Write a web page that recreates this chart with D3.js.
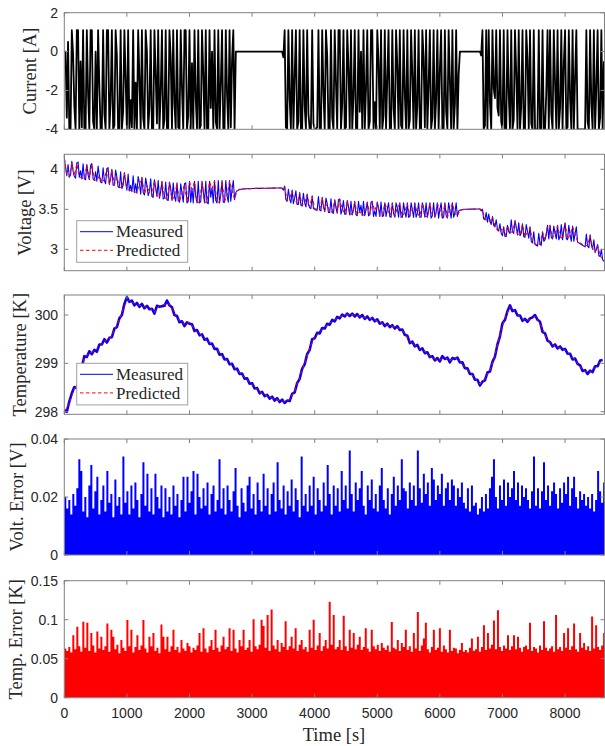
<!DOCTYPE html>
<html>
<head>
<meta charset="utf-8">
<script src="https://cdn.jsdelivr.net/npm/d3@7"></script>
<style>
body { margin: 0; background: #fff; }
.tlab { font-family: "Liberation Sans", Arial, sans-serif; font-size: 14px; fill: #262626; }
.alab { font-family: "Liberation Serif", serif; font-size: 18.5px; fill: #262626; }
.leg { font-family: "Liberation Serif", serif; font-size: 17px; fill: #262626; }
</style>
</head>
<body>
<script>
// ---- data ----
var curStep = 20;   // s between current / voltage samples
var current = [
 0,0,-3.4,0.5,-4,-4,1.1,-0.1,-2.8,-4,
 1.1,1.1,-4,-0.5,-3.9,1.1,-4,-4,1.1,-2.2,
 -4,1.1,1.1,-3.6,-4,0,-4,1.1,-1.8,-4,
 -4,1.1,-3.2,-4,1.1,1.1,-4,-2.6,1.1,-4,
 -3.8,1.1,-0.2,-4,-4,1.1,-4,-3.1,1.1,-1.5,
 -4,1.1,-4,-2.5,-3.9,1.1,-4,-1.6,-4,1.1,
 -1.4,-4,1.1,-3.4,-4,1.1,0,-4,-2.9,1.1,
 -4,-4,1.1,-1.2,-3.7,1.1,-4,-2.1,1.1,-4,
 -3.5,1.1,-4,-4,1.1,-0.3,-4,1.1,-2.7,-4,
 1.1,-3.9,-4,1.1,-1.9,-4,1.1,1.1,-4,-3.3,
 1.1,-4,-0.6,-4,1.1,-2.4,-4,1.1,-4,-3.8,
 1.1,-1.1,-4,1.1,-4,-4,1.1,-2.9,0,-4,
 1.1,-3.6,-4,1.1,-4,-1.7,1.1,-4,-4,1.1,
 -2.2,-4,1.1,-3.9,-0.4,1.1,-4,
 0,0,0,0,0,0,0,0,0,0,0,0,0,0,0,0,0,0,0,0,0,0,0,0,0,0,0,0,0,0,0,0,0,0,0,0,0,0,
 -0.3,1.1,-3.9,-4,1.1,-2.4,-4,1.1,-4,-1.3,
 1.1,-4,-3.6,1.1,-4,-4,1.1,-2.8,-4,1.1,
 -3.2,-4,-4,1.1,-3.7,-4,-4,-3.9,1.1,-4,
 -4,1.1,-2.1,-4,1.1,-0.2,-4,-4,1.1,-3.4,
 -4,1.1,-1.6,-4,1.1,1.1,-4,-2.7,1.1,-4,
 -3.9,1.1,-0.8,-4,1.1,-4,-2.3,1.1,-4,-4,
 1.1,-3.1,0,-4,1.1,-4,-1.9,1.1,-4,-3.6,
 1.1,1.1,-4,-2.6,-4,1.1,-0.5,-4,1.1,-4,
 -3.3,1.1,-4,-1.4,1.1,-4,-4,1.1,-2.9,-4,
 1.1,-0.7,-4,1.1,-3.8,-4,1.1,-2.2,-4,1.1,
 -4,-3.5,1.1,-1.2,-4,1.1,-4,-2.8,1.1,-4,
 -4,1.1,-0.3,-3.9,1.1,-4,-1.8,1.1,-4,-3.4,
 1.1,-4,-2.5,1.1,-4,-0.9,1.1,-4,-4,1.1,
 -3.1,-4,1.1,-1.5,-4,1.1,-4,-2.7,1.1,-4,
 -1.2,0,
 0,0,0,0,0,0,0,0,0,0,0,0,0,0,0,0,
 -0.2,1.1,-4,-3.8,1.1,-4,1.1,-2.6,-4,1.1,
 -1.9,-2.4,1.1,-2.9,-3.3,1.1,-3.6,-4,1.1,-4,
 -4,1.1,-2.2,-4,1.1,-4,-3.5,1.1,-1.1,-4,
 1.1,-4,-2.8,1.1,-4,-4,1.1,-0.4,-4,1.1,
 -3.7,-4,1.1,-4,-4,-4,1.1,-4,-4,1.1,
 -4,-4,-2.1,1.1,-4,1.1,-3.2,-4,1.1,-1.6,
 -4,1.1,-4,-2.9,1.1,-4,-0.6,1.1,-4,-3.9,
 1.1,-2.4,-4,1.1,-4,-1.3,1.1,-4,-4,-4,
 -4,-4,-4,-4,1.1,-3.6,-4,1.1,-2.7,-4,
 1.1,-4,-1.8,1.1,-4,-3.4,1.1,-4,-0.5
];

var voltMeas = [
 4.15,4.02,3.92,4.06,3.9,3.93,4.1,3.98,3.91,3.89,
 4.08,4.09,3.9,3.98,3.88,4.07,3.88,3.87,4.06,3.93,
 3.87,4.05,4.07,3.88,3.86,3.97,3.85,4.04,3.92,3.84,
 3.83,4.02,3.86,3.82,4.01,4.02,3.81,3.88,4.0,3.8,
 3.8,3.99,3.9,3.78,3.77,3.97,3.76,3.8,3.96,3.84,
 3.74,3.94,3.73,3.8,3.72,3.92,3.71,3.82,3.7,3.91,
 3.83,3.69,3.9,3.71,3.68,3.89,3.8,3.67,3.72,3.88,
 3.66,3.65,3.87,3.76,3.66,3.86,3.64,3.72,3.85,3.63,
 3.64,3.84,3.62,3.61,3.84,3.76,3.61,3.83,3.66,3.6,
 3.83,3.61,3.59,3.82,3.7,3.59,3.82,3.83,3.58,3.6,
 3.85,3.59,3.76,3.58,3.85,3.66,3.58,3.85,3.58,3.6,
 3.85,3.73,3.58,3.85,3.58,3.57,3.85,3.65,3.77,3.58,
 3.86,3.61,3.58,3.86,3.58,3.68,3.86,3.59,3.59,3.86,
 3.67,3.59,3.86,3.6,3.75,3.86,3.62,
 3.71,3.73,3.74,3.745,3.75,3.752,3.754,3.755,3.756,3.757,
 3.758,3.758,3.759,3.76,3.76,3.76,3.761,3.761,3.762,3.762,
 3.762,3.763,3.763,3.763,3.764,3.764,3.764,3.764,3.765,3.765,
 3.765,3.765,3.766,3.766,3.766,3.766,3.766,3.767,
 3.74,3.79,3.62,3.6,3.75,3.63,3.58,3.74,3.57,3.64,
 3.73,3.56,3.56,3.71,3.55,3.54,3.7,3.58,3.53,3.69,
 3.56,3.52,3.51,3.67,3.51,3.5,3.49,3.49,3.66,3.49,
 3.48,3.65,3.53,3.47,3.64,3.57,3.46,3.46,3.63,3.46,
 3.45,3.62,3.52,3.45,3.62,3.63,3.44,3.5,3.61,3.44,
 3.44,3.61,3.53,3.43,3.6,3.43,3.49,3.6,3.43,3.42,
 3.6,3.47,3.55,3.42,3.6,3.42,3.5,3.59,3.42,3.43,
 3.59,3.6,3.41,3.48,3.41,3.59,3.52,3.41,3.59,3.41,
 3.42,3.58,3.41,3.5,3.58,3.41,3.4,3.58,3.45,3.4,
 3.58,3.52,3.4,3.58,3.4,3.4,3.58,3.47,3.4,3.58,
 3.4,3.41,3.58,3.5,3.4,3.58,3.4,3.45,3.58,3.4,
 3.4,3.58,3.52,3.4,3.58,3.4,3.48,3.58,3.39,3.42,
 3.58,3.4,3.46,3.58,3.39,3.5,3.58,3.39,3.4,3.58,
 3.42,3.39,3.58,3.49,3.39,3.58,3.4,3.45,3.58,3.41,
 3.48,3.49,
 3.49,3.495,3.5,3.5,3.5,3.5,3.5,3.502,3.502,3.502,3.503,3.503,3.503,3.504,3.504,3.504,
 3.48,3.5,3.38,3.37,3.46,3.34,3.44,3.35,3.31,3.41,
 3.3,3.28,3.37,3.25,3.23,3.32,3.2,3.17,3.28,3.16,
 3.16,3.3,3.22,3.2,3.37,3.22,3.2,3.36,3.28,3.18,
 3.33,3.17,3.2,3.32,3.16,3.15,3.31,3.22,3.14,3.28,
 3.1,3.08,3.22,3.06,3.05,3.04,3.2,3.06,3.05,3.22,
 3.1,3.12,3.18,3.3,3.13,3.3,3.15,3.13,3.29,3.2,
 3.13,3.3,3.12,3.16,3.31,3.12,3.25,3.33,3.13,3.12,
 3.3,3.18,3.1,3.29,3.1,3.2,3.28,3.09,3.08,3.07,
 3.06,3.05,3.04,3.03,3.19,3.04,3.02,3.18,3.06,3.0,
 3.12,2.96,3.0,3.06,2.92,2.91,3.0,2.87,2.85
];

var predStep = 40;  // s between predicted voltage samples
var voltPred = [
 4.13,3.93,3.91,4.08,3.92,4.07,3.91,3.89,3.89,4.05,
 3.88,4.06,3.87,3.86,3.92,3.84,3.87,4.0,3.82,3.99,
 3.81,3.9,3.78,3.77,3.95,3.75,3.74,3.73,3.72,3.71,
 3.82,3.89,3.69,3.8,3.72,3.67,3.86,3.67,3.65,3.84,
 3.65,3.63,3.83,3.62,3.66,3.82,3.6,3.7,3.81,3.59,
 3.84,3.75,3.84,3.59,3.59,3.84,3.59,3.59,3.84,3.76,
 3.85,3.59,3.59,3.85,3.6,3.67,3.85,3.74,3.63,
 3.73,3.75,3.754,3.756,3.758,3.759,3.76,3.761,3.762,3.762,
 3.763,3.764,3.764,3.765,3.765,3.766,3.766,3.766,3.767,
 3.78,3.61,3.64,3.73,3.64,3.57,3.7,3.55,3.58,3.68,
 3.53,3.66,3.51,3.5,3.5,3.64,3.48,3.57,3.47,3.47,
 3.61,3.46,3.62,3.5,3.45,3.6,3.44,3.44,3.59,3.43,
 3.47,3.43,3.43,3.58,3.44,3.59,3.48,3.58,3.42,3.42,
 3.57,3.5,3.42,3.57,3.41,3.52,3.57,3.41,3.47,3.57,
 3.42,3.5,3.57,3.45,3.41,3.57,3.41,3.41,3.57,3.43,
 3.41,3.57,3.5,3.4,3.57,3.4,3.49,3.57,3.45,3.42,
 3.49,
 3.495,3.5,3.5,3.5,3.502,3.502,3.503,3.504,
 3.49,3.38,3.35,
 3.35,3.4,3.29,3.24,3.21,3.27,3.17,3.29,3.21,3.22,
 3.35,3.19,3.18,3.31,3.16,3.21,3.27,3.09,3.07,3.05,
 3.07,3.21,3.12,3.29,3.29,3.14,3.2,3.29,3.16,3.13,
 3.32,3.13,3.18,3.28,3.2,3.1,3.08,3.06,3.04,3.05,
 3.17,3.01,2.97,3.05,2.92,2.88
];

var tempStep = 40;  // s between measured temperature samples
var tempMeas = [
 298.02,298.0,298.21,298.38,298.51,298.49,298.68,298.92,299.15,299.13,
 299.25,299.19,299.28,299.24,299.39,299.39,299.5,299.43,299.53,299.54,
 299.72,299.75,299.93,300.0,300.23,300.37,300.27,300.3,300.2,300.25,
 300.17,300.23,300.14,300.19,300.12,300.13,300.03,300.19,300.17,300.18,
 300.19,300.3,300.2,300.16,300.0,299.98,299.85,299.87,299.77,299.85,
 299.82,299.81,299.67,299.69,299.58,299.6,299.49,299.51,299.4,299.41,
 299.3,299.3,299.18,299.19,299.08,299.09,298.98,298.99,298.88,298.89,
 298.78,298.79,298.68,298.69,298.58,298.59,298.48,298.49,298.38,298.41,
 298.32,298.35,298.27,298.31,298.23,298.28,298.2,298.25,298.18,298.23,
 298.22,298.37,298.4,298.59,298.68,298.89,298.98,299.19,299.28,299.5,
 299.52,299.63,299.62,299.73,299.72,299.82,299.8,299.9,299.87,299.96,
 299.93,300.01,299.97,300.03,299.98,300.03,299.97,300.02,299.95,300.0,
 299.92,299.97,299.9,299.94,299.87,299.91,299.82,299.85,299.77,299.82,
 299.75,299.79,299.72,299.77,299.69,299.7,299.59,299.57,299.42,299.45,
 299.35,299.38,299.28,299.31,299.21,299.23,299.13,299.15,299.06,299.11,
 299.04,299.15,299.09,299.12,299.02,299.11,299.09,299.12,299.02,299.02,
 298.9,298.9,298.78,298.78,298.66,298.66,298.54,298.62,298.65,298.81,
 298.83,299.03,299.14,299.39,299.56,299.83,299.9,300.08,300.2,300.08,
 300.1,299.99,299.99,299.88,299.92,299.86,299.93,299.95,300.0,299.9,
 299.86,299.65,299.62,299.47,299.44,299.35,299.39,299.31,299.35,299.28,
 299.3,299.2,299.2,299.08,299.1,298.99,298.96,298.84,298.86,298.78,
 298.85,298.82,298.94,298.94,299.06,299.07
];

var tempPredStep = 80;  // s between predicted temperature samples
var tempPred = [
 298.0,298.18,298.47,298.65,299.12,299.21,299.25,299.35,299.46,299.5,
 299.68,299.9,300.2,300.31,300.24,300.2,300.17,300.15,300.06,300.2,
 300.22,300.23,300.03,299.88,299.8,299.85,299.7,299.61,299.52,299.43,
 299.33,299.21,299.11,299.01,298.91,298.81,298.71,298.61,298.51,298.41,
 298.35,298.3,298.26,298.23,298.21,298.25,298.43,298.71,299.01,299.31,
 299.55,299.65,299.75,299.83,299.9,299.96,300.0,300.01,300.0,299.98,
 299.95,299.93,299.9,299.85,299.8,299.78,299.75,299.72,299.62,299.45,
 299.38,299.31,299.24,299.16,299.09,299.07,299.12,299.05,299.12,299.05,
 298.93,298.81,298.69,298.57,298.68,298.86,299.17,299.59,299.93,300.17,
 300.07,299.96,299.89,299.9,299.97,299.83,299.59,299.41,299.36,299.32,
 299.27,299.17,299.07,298.93,298.83,298.82,298.91,299.03
];

var errBin = 32;  // s per error bin (peak of |error| in each bin)
var voltErr = [
 0.02,0.016,0.019,0.014,0.021,0.017,0.023,0.033,0.029,0.015,
 0.02,0.013,0.024,0.031,0.016,0.022,0.027,0.014,0.019,0.024,
 0.015,0.029,0.018,0.021,0.013,0.026,0.017,0.02,0.014,0.034,
 0.018,0.022,0.014,0.024,0.016,0.025,0.019,0.013,0.021,0.032,
 0.017,0.028,0.015,0.023,0.014,0.028,0.02,0.016,0.024,0.013,
 0.023,0.015,0.02,0.014,0.024,0.017,0.021,0.013,0.019,0.027,
 0.015,0.027,0.018,0.022,0.029,0.014,0.028,0.02,0.016,0.023,
 0.017,0.025,0.014,0.021,0.024,0.015,0.019,0.033,0.016,0.023,
 0.014,0.024,0.019,0.015,0.022,0.03,0.017,0.013,0.023,0.018,
 0.015,0.024,0.027,0.016,0.021,0.014,0.025,0.019,0.015,0.028,
 0.017,0.023,0.014,0.021,0.025,0.015,0.032,0.019,0.016,0.024,
 0.014,0.022,0.017,0.026,0.015,0.023,0.019,0.013,0.034,0.017,
 0.021,0.015,0.024,0.017,0.027,0.014,0.023,0.019,0.015,0.025,
 0.017,0.031,0.021,0.014,0.024,0.017,0.023,0.015,0.029,0.019,
 0.024,0.016,0.036,0.021,0.015,0.025,0.019,0.023,0.029,0.017,
 0.014,0.024,0.019,0.026,0.016,0.021,0.015,0.024,0.03,0.019,
 0.016,0.023,0.014,0.021,0.027,0.017,0.024,0.019,0.033,0.023,
 0.022,0.016,0.025,0.019,0.024,0.017,0.036,0.023,0.018,0.028,
 0.021,0.025,0.017,0.03,0.026,0.019,0.024,0.021,0.028,0.017,
 0.023,0.025,0.019,0.026,0.024,0.017,0.023,0.02,0.025,0.018,
 0.016,0.023,0.015,0.024,0.017,0.018,0.014,0.016,0.02,0.015,
 0.021,0.016,0.023,0.027,0.033,0.02,0.016,0.024,0.019,0.026,
 0.017,0.025,0.02,0.023,0.029,0.019,0.025,0.017,0.024,0.02,
 0.023,0.019,0.016,0.022,0.034,0.017,0.023,0.016,0.022,0.032,
 0.019,0.024,0.017,0.022,0.025,0.021,0.016,0.023,0.018,0.025,
 0.021,0.027,0.017,0.023,0.027,0.02,0.016,0.022,0.019,0.021,
 0.017,0.02,0.016,0.021,0.015,0.019,0.029,0.022,0.018,0.025
];

var tempErr = [
 0.063,0.06,0.065,0.058,0.08,0.062,0.091,0.066,0.059,0.0975,
 0.064,0.096,0.06,0.083,0.067,0.058,0.085,0.063,0.078,0.061,
 0.066,0.095,0.059,0.087,0.078,0.062,0.068,0.057,0.074,0.064,
 0.06,0.0996,0.066,0.087,0.058,0.065,0.08,0.061,0.067,0.0996,
 0.063,0.058,0.078,0.066,0.083,0.06,0.064,0.057,0.094,0.078,
 0.062,0.078,0.059,0.066,0.087,0.061,0.065,0.058,0.074,0.063,
 0.06,0.07,0.066,0.058,0.064,0.061,0.067,0.083,0.059,0.089,
 0.063,0.058,0.066,0.074,0.061,0.087,0.064,0.059,0.067,0.078,
 0.062,0.065,0.089,0.06,0.087,0.063,0.058,0.074,0.066,0.087,
 0.061,0.064,0.074,0.059,0.1005,0.066,0.062,0.068,0.1,0.092,
 0.064,0.106,0.06,0.113,0.067,0.062,0.074,0.059,0.07,0.065,
 0.098,0.061,0.066,0.078,0.063,0.089,0.06,0.068,0.074,0.062,
 0.065,0.059,0.087,0.064,0.1,0.061,0.067,0.083,0.06,0.066,
 0.074,0.063,0.123,0.068,0.106,0.062,0.065,0.074,0.061,0.105,
 0.066,0.06,0.087,0.064,0.083,0.062,0.068,0.078,0.061,0.065,
 0.089,0.063,0.059,0.087,0.066,0.062,0.068,0.06,0.07,0.064,
 0.061,0.067,0.059,0.097,0.064,0.062,0.074,0.06,0.07,0.065,
 0.087,0.061,0.066,0.059,0.083,0.063,0.11,0.06,0.067,0.076,
 0.096,0.062,0.058,0.065,0.087,0.061,0.064,0.089,0.059,0.067,
 0.062,0.058,0.087,0.06,0.064,0.063,0.057,0.061,0.07,0.059,
 0.061,0.058,0.064,0.076,0.06,0.062,0.078,0.059,0.065,0.093,
 0.061,0.083,0.063,0.068,0.099,0.062,0.112,0.065,0.06,0.067,
 0.063,0.08,0.061,0.066,0.08,0.062,0.078,0.064,0.059,0.065,
 0.067,0.062,0.096,0.06,0.065,0.063,0.058,0.067,0.061,0.098,
 0.064,0.06,0.063,0.066,0.059,0.106,0.062,0.065,0.06,0.083,
 0.064,0.089,0.061,0.066,0.095,0.062,0.059,0.083,0.064,0.07,
 0.061,0.066,0.06,0.104,0.063,0.093,0.065,0.061,0.067,0.083
];

var xTicks = [0, 1000, 2000, 3000, 4000, 5000, 6000, 7000, 8000];
var legendNames = ["Measured", "Predicted"];

// ---- layout ----
var width = 605, height = 746;
var x = d3.scaleLinear().domain([0, 8630]).range([64.3, 604.5]);

var panels = [
  {top: 12.7,  bottom: 129.3, domain: [-4, 2],            ticks: [-4, -2, 0, 2],       label: "Current [A]",     lx: 30},
  {top: 154.3, bottom: 270.7, domain: [2.7325, 4.1875],   ticks: [3, 3.5, 4],          label: "Voltage [V]",     lx: 25},
  {top: 295,   bottom: 414.3, domain: [297.946, 300.414], ticks: [298, 299, 300],      label: "Temperature [K]", lx: 20},
  {top: 439,   bottom: 555,   domain: [0, 0.04],          ticks: [0, 0.02, 0.04],      label: "Volt. Error [V]", lx: 17},
  {top: 580.7, bottom: 697.7, domain: [0, 0.15],          ticks: [0, 0.05, 0.1, 0.15], label: "Temp. Error [K]", lx: 16}
];

var svg = d3.select("body").append("svg")
    .attr("width", width)
    .attr("height", height);

panels.forEach(function(p, i) {
  p.y = d3.scaleLinear().domain(p.domain).range([p.bottom, p.top]);
  svg.append("clipPath").attr("id", "clip" + i)
    .append("rect")
      .attr("x", x.range()[0]).attr("y", p.top)
      .attr("width", x.range()[1] - x.range()[0])
      .attr("height", p.bottom - p.top);
  p.g = svg.append("g").attr("clip-path", "url(#clip" + i + ")");
});

function series(vals, step) {
  return vals.map(function(v, i) { return [i * step, v]; });
}

function drawLine(p, data, color, w, dash) {
  var line = d3.line()
      .x(function(d) { return x(d[0]); })
      .y(function(d) { return p.y(d[1]); });
  p.g.append("path")
      .attr("d", line(data))
      .attr("fill", "none")
      .attr("stroke", color)
      .attr("stroke-width", w)
      .attr("stroke-dasharray", dash || null)
      .attr("stroke-linejoin", "round");
}

// error peaks drawn as one stepped area, so the bins have no seams
function drawBins(p, vals, color) {
  var pts = vals.map(function(v, i) { return [i * errBin, v]; });
  pts.push([vals.length * errBin, vals[vals.length - 1]]);
  var area = d3.area()
      .curve(d3.curveStepAfter)
      .x(function(d) { return x(d[0]); })
      .y0(p.y(0))
      .y1(function(d) { return p.y(d[1]); });
  p.g.append("path")
      .attr("d", area(pts))
      .attr("fill", color);
}

// current
drawLine(panels[0], series(current, curStep), "#000", 1.8);
// voltage
drawLine(panels[1], series(voltMeas, curStep), "#0000ff", 1.1);
drawLine(panels[1], series(voltPred, predStep), "#ff0000", 1.1, "3.5,2.5");
// temperature
drawLine(panels[2], series(tempMeas, tempStep), "#0000ff", 2.6);
drawLine(panels[2], series(tempPred, tempPredStep), "#ff0000", 1, "3.5,2.5");
// errors
drawBins(panels[3], voltErr, "#0000ff");
drawBins(panels[4], tempErr, "#ff0000");

// axes: box, inward ticks, labels
var axisColor = "#808080";
panels.forEach(function(p, i) {
  var g = svg.append("g");
  var x0 = x.range()[0], x1 = x.range()[1];
  g.append("rect")
      .attr("x", x0).attr("y", p.top)
      .attr("width", x1 - x0).attr("height", p.bottom - p.top)
      .attr("fill", "none").attr("stroke", axisColor).attr("stroke-width", 1);
  xTicks.forEach(function(t) {
    g.append("line").attr("x1", x(t)).attr("x2", x(t))
      .attr("y1", p.bottom).attr("y2", p.bottom - 4).attr("stroke", axisColor);
    g.append("line").attr("x1", x(t)).attr("x2", x(t))
      .attr("y1", p.top).attr("y2", p.top + 4).attr("stroke", axisColor);
  });
  p.ticks.forEach(function(t) {
    g.append("line").attr("x1", x0).attr("x2", x0 + 4)
      .attr("y1", p.y(t)).attr("y2", p.y(t)).attr("stroke", axisColor);
    g.append("line").attr("x1", x1).attr("x2", x1 - 4)
      .attr("y1", p.y(t)).attr("y2", p.y(t)).attr("stroke", axisColor);
    g.append("text").attr("class", "tlab")
      .attr("x", 58).attr("y", p.y(t)).attr("dy", "0.35em")
      .attr("text-anchor", "end")
      .text(String(t));
  });
  g.append("text").attr("class", "alab")
      .attr("transform", "translate(" + p.lx + "," + ((p.top + p.bottom) / 2) + ") rotate(-90)")
      .attr("text-anchor", "middle")
      .attr("dy", "0.35em")
      .text(p.label);
});

// x tick labels and title under the last panel
xTicks.forEach(function(t) {
  svg.append("text").attr("class", "tlab")
    .attr("x", x(t)).attr("y", 718)
    .attr("text-anchor", "middle")
    .text(String(t));
});
svg.append("text").attr("class", "alab")
    .attr("x", 334).attr("y", 741)
    .attr("text-anchor", "middle")
    .text("Time [s]");

// legends
function legend(top) {
  var g = svg.append("g");
  g.append("rect")
      .attr("x", 76.7).attr("y", top)
      .attr("width", 111).attr("height", 41.6)
      .attr("fill", "#fff").attr("stroke", "#a0a0a0").attr("stroke-width", 1);
  var rows = [{c: "#0000ff", dash: null}, {c: "#ff0000", dash: "3.5,2.5"}];
  rows.forEach(function(r, k) {
    var yy = top + 11 + k * 18.6;
    g.append("line").attr("x1", 80).attr("x2", 113)
      .attr("y1", yy).attr("y2", yy)
      .attr("stroke", r.c).attr("stroke-width", 1)
      .attr("stroke-dasharray", r.dash);
    g.append("text").attr("class", "leg")
      .attr("x", 116).attr("y", yy).attr("dy", "0.33em")
      .text(legendNames[k]);
  });
}
legend(220.7);
legend(363.3);
</script>
</body>
</html>
